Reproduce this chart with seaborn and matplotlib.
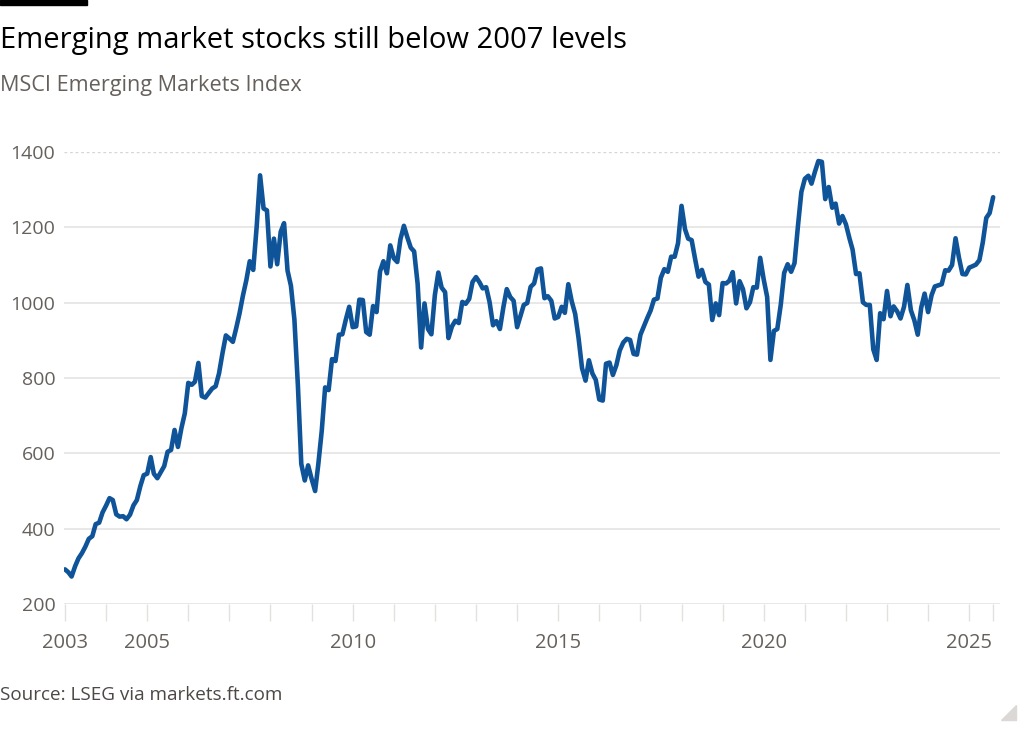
"""
plot.py

Recreate FT-style chart: MSCI Emerging Markets Index, monthly, 2003 - Aug 2025.
Saves out.png (1024x731).
"""

import pandas as pd
import matplotlib
matplotlib.use("Agg")
import matplotlib.pyplot as plt
import seaborn as sns
from matplotlib.patches import Polygon, Rectangle

# Monthly index levels, Jan..Dec per year
v2003 = [292, 284, 273, 300, 321, 335, 352, 373, 380, 412, 416, 443]
v2004 = [461, 481, 476, 438, 432, 433, 425, 437, 462, 476, 513, 542]
v2005 = [546, 590, 546, 534, 550, 566, 604, 609, 662, 617, 667, 706]
v2006 = [787, 782, 790, 840, 752, 748, 760, 772, 778, 812, 866, 913]
v2007 = [905, 896, 930, 971, 1018, 1060, 1110, 1087, 1203, 1338, 1250, 1245]
v2008 = [1096, 1170, 1102, 1188, 1211, 1085, 1045, 955, 780, 572, 528, 568]
v2009 = [532, 500, 570, 660, 775, 768, 850, 845, 915, 916, 955, 989]
v2010 = [935, 937, 1008, 1007, 922, 915, 991, 975, 1083, 1110, 1078, 1152]
v2011 = [1118, 1108, 1168, 1204, 1174, 1146, 1136, 1050, 881, 998, 930, 916]
v2012 = [1020, 1080, 1040, 1028, 906, 937, 952, 946, 1002, 997, 1010, 1055]
v2013 = [1068, 1054, 1038, 1041, 1002, 940, 951, 930, 988, 1036, 1015, 1005]
v2014 = [935, 966, 994, 999, 1042, 1051, 1088, 1091, 1012, 1017, 1005, 958]
v2015 = [962, 989, 973, 1049, 1004, 970, 906, 826, 793, 847, 812, 795]
v2016 = [743, 740, 838, 841, 808, 834, 873, 894, 904, 901, 864, 862]
v2017 = [915, 938, 958, 979, 1008, 1011, 1066, 1089, 1082, 1122, 1122, 1158]
v2018 = [1257, 1195, 1170, 1166, 1117, 1069, 1087, 1055, 1048, 954, 998, 967]
v2019 = [1052, 1051, 1058, 1081, 998, 1057, 1036, 985, 1001, 1041, 1040, 1119]
v2020 = [1062, 1015, 848, 925, 930, 995, 1079, 1102, 1082, 1105, 1205, 1294]
v2021 = [1329, 1337, 1316, 1348, 1376, 1374, 1275, 1307, 1252, 1263, 1210, 1230]
v2022 = [1208, 1171, 1141, 1076, 1078, 1001, 994, 994, 876, 848, 972, 956]
v2023 = [1031, 964, 990, 977, 958, 989, 1047, 980, 953, 915, 987, 1024]
v2024 = [975, 1020, 1043, 1046, 1049, 1086, 1085, 1100, 1171, 1120, 1076, 1075]
v2025 = [1093, 1097, 1101, 1113, 1160, 1225, 1238, 1280]

yearly = [v2003, v2004, v2005, v2006, v2007, v2008, v2009, v2010, v2011,
          v2012, v2013, v2014, v2015, v2016, v2017, v2018, v2019, v2020,
          v2021, v2022, v2023, v2024, v2025]
values = [v for year in yearly for v in year]
dates = pd.date_range("2003-01-01", periods=len(values), freq="MS")

y_ticks = [200, 400, 600, 800, 1000, 1200, 1400]
labelled_years = [2003, 2005, 2010, 2015, 2020, 2025]

TITLE = "Emerging market stocks still below 2007 levels"
SUBTITLE = "MSCI Emerging Markets Index"
SOURCE = "Source: LSEG via markets.ft.com"

LINE_BLUE = "#0f5499"
GRID = "#e3e1df"
GREY_TEXT = "#66605c"

df = pd.DataFrame({"date": dates, "level": values})

sns.set_theme(style="white")
plt.rcParams["font.family"] = ["Open Sans", "DejaVu Sans"]

fig = plt.figure(figsize=(10.24, 7.31), dpi=100)
W, H = 1024, 731
ax = fig.add_axes([63.6 / W, (H - 604) / H, (1000 - 63.6) / W, 452 / H])

sns.lineplot(data=df, x="date", y="level", ax=ax, color=LINE_BLUE,
             linewidth=3.3, zorder=3)

ax.set_xlim(pd.Timestamp("2002-12-20"), pd.Timestamp("2025-10-01"))
ax.set_ylim(200, 1400)

# gridlines (top one dashed, like the reference)
for yv in y_ticks:
    if yv == 1400:
        ax.axhline(yv, color="#d8d5d2", lw=1, ls=(0, (2, 2)), zorder=1)
    else:
        ax.axhline(yv, color=GRID, lw=1.1, zorder=1)

ax.set_yticks(y_ticks)
ax.set_yticklabels([str(v) for v in y_ticks])

# one tick per year, plus a tick at the last data point
xt = [pd.Timestamp(f"{y}-01-01") for y in range(2003, 2026)] + [dates[-1]]
xl = [str(t.year) if (t.year in labelled_years and t.month == 1) else "" for t in xt]
ax.set_xticks(xt)
ax.set_xticklabels(xl)

ax.tick_params(axis="x", length=12, width=1, color=GRID, direction="out",
               pad=9, labelsize=14.5, labelcolor=GREY_TEXT)
ax.tick_params(axis="y", length=0, pad=6, labelsize=14, labelcolor=GREY_TEXT)
ax.xaxis.set_ticks_position("bottom")

for s in ax.spines.values():
    s.set_visible(False)
ax.set_xlabel("")
ax.set_ylabel("")
ax.grid(False)

# header and footer
fig.patches.append(Rectangle((0, 1 - 5 / H), 87 / W, 5 / H, transform=fig.transFigure,
                             color="black", zorder=5))
fig.text(0.0, 1 - 48 / H, TITLE, fontsize=21, color="#000000", va="baseline", ha="left")
fig.text(0.0, 1 - 91 / H, SUBTITLE, fontsize=15.6, color=GREY_TEXT, va="baseline", ha="left")
fig.text(0.0, 1 - 700 / H, SOURCE, fontsize=13.6, color="#4d4845", va="baseline", ha="left")

fig.patches.append(Polygon([(1016 / W, 1 - 705 / H), (1016 / W, 1 - 720 / H),
                            (1001 / W, 1 - 720 / H)], closed=True,
                           transform=fig.transFigure, color="#dcd8d5"))

fig.savefig("out.png", dpi=100, facecolor="white")
